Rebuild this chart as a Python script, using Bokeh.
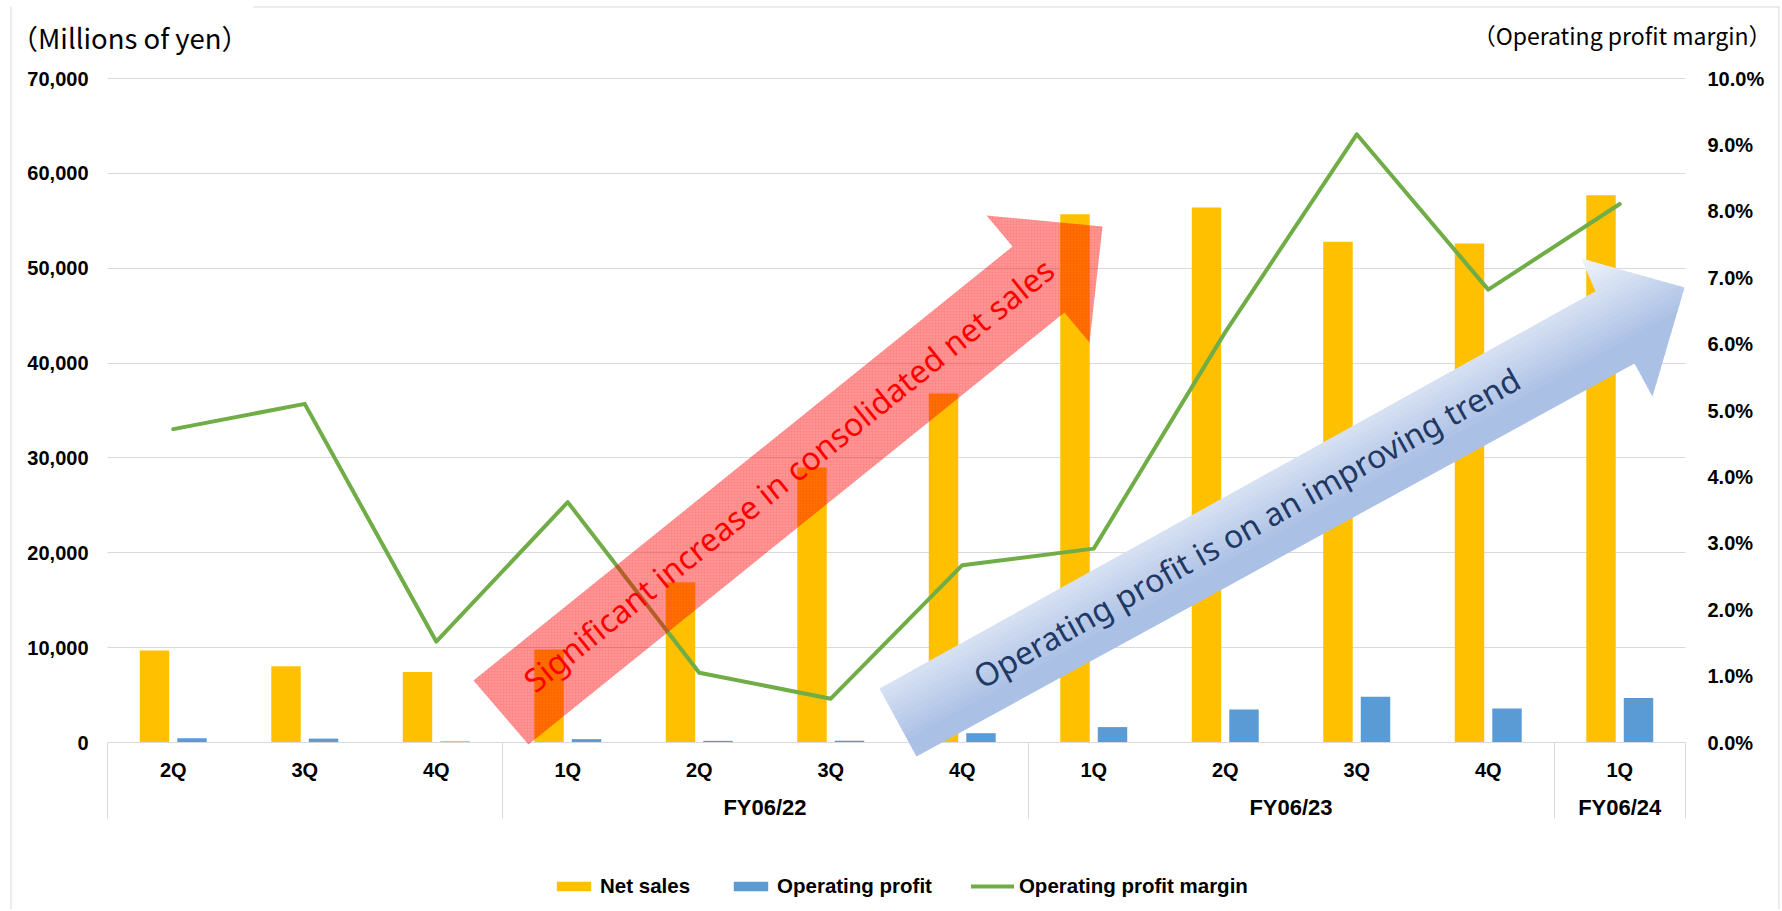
import numpy as np
from bokeh.plotting import figure
from bokeh.models import (Range1d, LinearAxis, FixedTicker, PrintfTickFormatter, NumeralTickFormatter,
                          Label, Legend, LegendItem, BoxAnnotation, PolyAnnotation, Grid)
from bokeh.embed import file_html
from bokeh.resources import INLINE

# ---------------- data ----------------
quarters = ["2Q", "3Q", "4Q", "1Q", "2Q", "3Q", "4Q", "1Q", "2Q", "3Q", "4Q", "1Q"]
fiscal_years = ["", "FY06/22", "FY06/23", "FY06/24"]
fy_sizes = [3, 4, 4, 1]
net_sales = [9700, 8030, 7430, 9800, 16900, 29000, 36800, 55700, 56400, 52800, 52600, 57700]
operating_profit = [455, 410, 113, 355, 177, 191, 982, 1625, 3490, 4835, 3590, 4680]
op_margin = [4.72, 5.10, 1.52, 3.62, 1.05, 0.66, 2.67, 2.92, 6.18, 9.16, 6.82, 8.11]
sales_ticks = list(range(0, 70001, 10000))
margin_ticks = list(range(0, 11))
series_names = ["Net sales", "Operating profit", "Operating profit margin"]

# ---------------- layout (pixels of the picture) ----------------
W, H = 1780, 909
PL, PR, PT, PB = 107, 1685, 78, 742          # plot-area box
NCAT = len(quarters)
YMAX = sales_ticks[-1]
PMAX = margin_ticks[-1]

YELLOW = "#FFC000"
BLUE = "#5B9BD5"
GREEN = "#70AD47"
GRID = "#d9d9d9"
TICK_FONT = "Liberation Sans"


def dx(X):
    return (X - PL) / (PR - PL) * NCAT


def dy(Y):
    return (PB - Y) / (PB - PT) * YMAX


def pdy(Y):
    return (PB - Y) / (PB - PT) * PMAX


p = figure(width=W, height=H, output_backend="svg", toolbar_location=None, title=None,
           x_range=Range1d(dx(0), dx(W)), y_range=Range1d(dy(H), dy(0)),
           x_axis_type=None, y_axis_type=None, min_border=0,
           background_fill_color="white", border_fill_color="white")
p.outline_line_color = None
p.extra_y_ranges = {"pct": Range1d(pdy(H), pdy(0))}

p.add_layout(Grid(dimension=1, ticker=FixedTicker(ticks=sales_ticks), cross_bounds=(0, NCAT),
                  grid_line_color=GRID, grid_line_width=1))

label_style = dict(major_label_text_font=TICK_FONT, major_label_text_font_style="bold",
                   major_label_text_color="black")

# left axis
ya = LinearAxis(fixed_location=0, ticker=FixedTicker(ticks=sales_ticks),
                formatter=NumeralTickFormatter(format="0,0"),
                axis_line_color=None, major_tick_line_color=None, minor_tick_line_color=None,
                major_tick_out=0, major_tick_in=0, major_label_standoff=19,
                major_label_text_font_size="20px", **label_style)
p.add_layout(ya, "left")

# right axis
ra = LinearAxis(fixed_location=NCAT, y_range_name="pct", ticker=FixedTicker(ticks=margin_ticks),
                formatter=PrintfTickFormatter(format="%.1f%%"),
                axis_line_color=None, major_tick_line_color=None, minor_tick_line_color=None,
                major_tick_out=0, major_tick_in=0, major_label_standoff=22,
                major_label_text_font_size="20px", **label_style)
p.add_layout(ra, "right")

# category axis: separators, quarters, fiscal years
centers = [i + 0.5 for i in range(NCAT)]
bounds = [0]
for s in fy_sizes:
    bounds.append(bounds[-1] + s)
fy_centers = [(bounds[i] + bounds[i + 1]) / 2 for i in range(len(fy_sizes))]

sep = LinearAxis(fixed_location=0, bounds=(0, NCAT), ticker=FixedTicker(ticks=bounds),
                 major_label_overrides={b: "" for b in bounds},
                 axis_line_color=GRID, axis_line_width=1,
                 major_tick_line_color=GRID, major_tick_out=76, major_tick_in=0,
                 minor_tick_line_color=None, major_label_text_font_size="1px")
p.add_layout(sep, "below")

qa = LinearAxis(fixed_location=0, ticker=FixedTicker(ticks=centers),
                major_label_overrides={c: q for c, q in zip(centers, quarters)},
                axis_line_color=None, major_tick_line_color=None, minor_tick_line_color=None,
                major_tick_out=0, major_tick_in=0, major_label_standoff=16,
                major_label_text_font_size="20px", **label_style)
p.add_layout(qa, "below")

fa = LinearAxis(fixed_location=0, ticker=FixedTicker(ticks=fy_centers),
                major_label_overrides={c: f for c, f in zip(fy_centers, fiscal_years)},
                axis_line_color=None, major_tick_line_color=None, minor_tick_line_color=None,
                major_tick_out=0, major_tick_in=0, major_label_standoff=52,
                major_label_text_font_size="22px", **label_style)
p.add_layout(fa, "below")

# ---------------- marks ----------------
BW = 0.224
OFFS = 0.1426
x_sales = [c - OFFS for c in centers]
x_op = [c + OFFS for c in centers]
r_sales = p.vbar(x=x_sales, top=net_sales, width=BW, fill_color=YELLOW, line_color=None)
r_op = p.vbar(x=x_op, top=operating_profit, width=BW, fill_color=BLUE, line_color=None)
r_line = p.line(x=centers, y=op_margin, y_range_name="pct", line_color=GREEN, line_width=4,
                line_join="round", line_cap="round")

# ---------------- decorative arrows ----------------
red_arrow = [(473, 680), (1012, 246), (986, 215), (1102, 226), (1089, 342), (1064, 312), (528, 744)]
blue_arrow = [(879, 688), (1595, 291), (1581, 258), (1684, 287), (1652, 396), (1634, 363), (916, 756)]


def to_data(pts):
    return [dx(a) for a, b in pts], [dy(b) for a, b in pts]


rx, ryy = to_data(red_arrow)
p.add_layout(PolyAnnotation(xs=rx, ys=ryy, fill_color="#FF0000", fill_alpha=0.42, line_color=None,
                            hatch_pattern="cross", hatch_color="#FF0000", hatch_alpha=0.10,
                            hatch_scale=3, hatch_weight=0.6))


def clip_half(poly, n, c):
    out = []
    for i in range(len(poly)):
        P = poly[i]
        Q = poly[(i + 1) % len(poly)]
        d1 = P[0] * n[0] + P[1] * n[1] - c
        d2 = Q[0] * n[0] + Q[1] * n[1] - c
        if d1 >= 0:
            out.append(P)
        if (d1 >= 0) != (d2 >= 0):
            t = d1 / (d1 - d2)
            out.append((P[0] + t * (Q[0] - P[0]), P[1] + t * (Q[1] - P[1])))
    return out


def mix(c0, c1, t):
    a = [int(c0[i:i + 2], 16) for i in (1, 3, 5)]
    b = [int(c1[i:i + 2], 16) for i in (1, 3, 5)]
    return "#%02x%02x%02x" % tuple(int(round(a[k] + (b[k] - a[k]) * t)) for k in range(3))


g = (0.486, 0.874)   # gradient runs across the arrow: light upper edge -> darker lower edge
proj = [pt[0] * g[0] + pt[1] * g[1] for pt in blue_arrow]
smin, smax = min(proj), max(proj)
NB = 30
for k in range(NB):
    s0 = smin + (smax - smin) * k / NB - 0.6
    s1 = smin + (smax - smin) * (k + 1) / NB + 0.6
    band = clip_half(blue_arrow, g, s0)
    band = clip_half(band, (-g[0], -g[1]), -s1)
    if len(band) < 3:
        continue
    t = min(((k + 0.5) / NB) / 0.62, 1.0)
    bx, byy = to_data(band)
    p.add_layout(PolyAnnotation(xs=bx, ys=byy, fill_color=mix("#F2F5FB", "#ABC0E5", t),
                                fill_alpha=1.0, line_color=None))

ARROW_FONT = "Noto Sans"
p.add_layout(Label(x=dx(788), y=dy(474), text="Significant increase in consolidated net sales",
                   angle=np.deg2rad(38.8), text_align="center", text_baseline="middle",
                   text_color="#FF0000", text_font=ARROW_FONT, text_font_size="32px"))
p.add_layout(Label(x=dx(1246), y=dy(527), text="Operating profit is on an improving trend",
                   angle=np.deg2rad(29.2), text_align="center", text_baseline="middle",
                   text_color="#1F3864", text_font=ARROW_FONT, text_font_size="32px"))

# ---------------- titles ----------------
p.add_layout(Label(x=dx(10), y=dy(36), text="（Millions of yen）", text_align="left",
                   text_baseline="middle", text_font="Noto Sans CJK JP",
                   text_font_size="27.5px", text_color="black"))
p.add_layout(Label(x=dx(1771), y=dy(34), text="（Operating profit margin）", text_align="right",
                   text_baseline="middle", text_font="Noto Sans CJK JP",
                   text_font_size="23px", text_color="black"))

# ---------------- chart border ----------------
for (l, r, t, b) in [(10, 11, 6, H), (W - 2, W - 1, 6, H), (253, W - 1, 6, 7)]:
    p.add_layout(BoxAnnotation(left=dx(l), right=dx(r), top=dy(t), bottom=dy(b),
                               fill_color=GRID, fill_alpha=1.0, line_color=None))

# ---------------- legend ----------------
legend = Legend(items=[LegendItem(label=series_names[0], renderers=[r_sales]),
                       LegendItem(label=series_names[1], renderers=[r_op]),
                       LegendItem(label=series_names[2], renderers=[r_line])],
                orientation="horizontal", location=(552, 11),
                glyph_width=43, glyph_height=12, label_standoff=5, spacing=39,
                padding=0, margin=0, border_line_color=None, background_fill_alpha=0,
                label_text_font=TICK_FONT, label_text_font_size="20.5px",
                label_text_font_style="bold", label_text_color="black", label_height=20)
p.add_layout(legend, "center")

open("out.html", "w").write(file_html(p, INLINE))
